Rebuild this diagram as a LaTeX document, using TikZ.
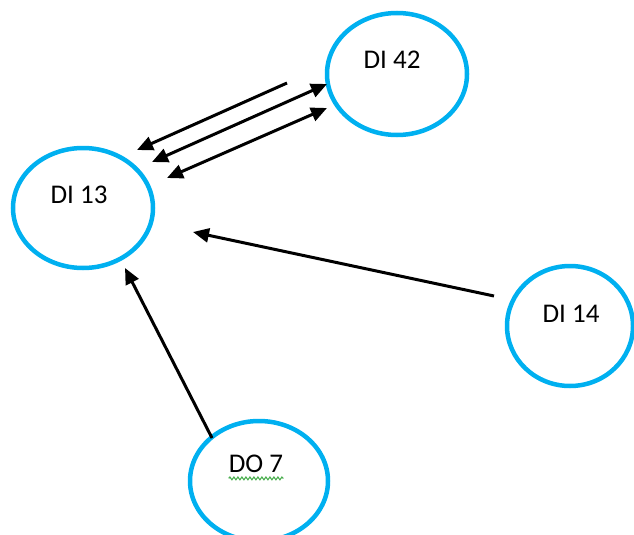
\documentclass[tikz,border=0pt]{standalone}
\usepackage{fontspec}
\setmainfont{Carlito}
\usetikzlibrary{arrows.meta,shapes.geometric,decorations.pathmorphing}
\definecolor{ringblue}{RGB}{0,176,240}
\definecolor{spellgreen}{RGB}{76,175,80}
\begin{document}
\begin{tikzpicture}[x=1pt,y=-1pt,
  ring/.style={draw=ringblue,line width=4.5pt,ellipse,minimum width=#1},
  ring/.default=140pt,
  lbl/.style={anchor=base,inner sep=0pt,font=\fontsize{27}{32}\selectfont},
  link/.style={line width=3pt,draw=black,-{Triangle[length=16pt,width=14pt]}},
  twoway/.style={line width=3pt,draw=black,{Triangle[length=16pt,width=14pt]}-{Triangle[length=16pt,width=14pt]}}]
\useasboundingbox (0,0) rectangle (634,535);

% circles
\node[ring,minimum height=120pt] (n13) at (83,208) {};
\node[ring,minimum height=122pt] (n42) at (397,74) {};
\node[ring=126pt,minimum height=120pt] (n14) at (570,326) {};
\node[ring=138pt,minimum height=120pt] (n7) at (259,481) {};

% labels
\node[lbl] (t13) at (79,203) {DI 13};
\node[lbl] (t42) at (392,68) {DI 42};
\node[lbl] (t14) at (571,322) {DI 14};
\node[lbl] (t7) at (256,472) {DO 7};
\draw[spellgreen,line width=1.1pt,decorate,decoration={snake,amplitude=1.4pt,segment length=4pt}]
  (t7.south west) ++(0,6) coordinate (w1) -- (t7.south east |- w1);

% connector end points
\coordinate (a1s) at (287,83);  \coordinate (a1e) at (137,150);
\coordinate (a2s) at (152,162); \coordinate (a2e) at (327,84);
\coordinate (a3s) at (167,178); \coordinate (a3e) at (327,108);
\coordinate (a4s) at (494,296); \coordinate (a4e) at (193,232);
\coordinate (a5s) at (212,438); \coordinate (a5e) at (125,268);

% connectors
\draw[link] (a1s) -- (a1e);
\draw[twoway] (a2s) -- (a2e);
\draw[twoway] (a3s) -- (a3e);
\draw[link] (a4s) -- (a4e);
\draw[link] (a5s) -- (a5e);
\end{tikzpicture}
\end{document}
